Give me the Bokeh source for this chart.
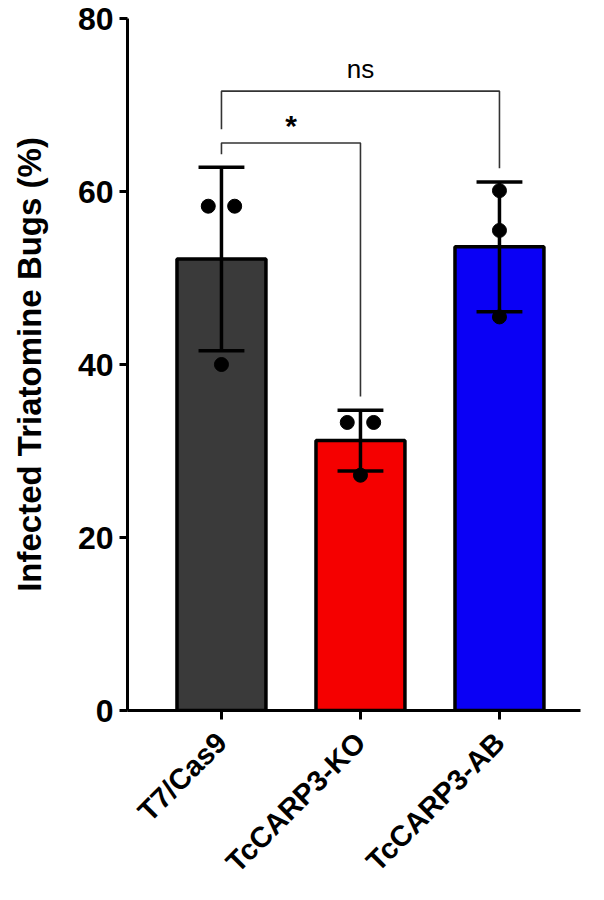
import math
from bokeh.plotting import figure
from bokeh.models import Range1d, FixedTicker, ColumnDataSource
from bokeh.core.properties import value
from bokeh.embed import file_html
from bokeh.resources import INLINE

# ---- data ----
categories = ["T7/Cas9", "TcCARP3-KO", "TcCARP3-AB"]
means = [52.2, 31.2, 53.6]
sds = [10.6, 3.5, 7.5]
pts_t7 = [58.3, 58.3, 40.0]
pts_ko = [33.3, 33.3, 27.2]
pts_ab = [60.1, 55.5, 45.5]
bar_colors = ["#3a3a3a", "#f50000", "#0a00f5"]
y_ticks = [0, 20, 40, 60, 80]
# significance comparisons: (group a, group b, label, bracket top, left leg end, right leg end)
sig_a = [0, 0]
sig_b = [1, 2]
sig_labels = ["*", "ns"]
sig_top = [65.6, 71.6]
sig_left_end = [64.3, 67.2]
sig_right_end = [36.3, 62.7]

# styling (jitter of replicate dots within a group)
jitter = [[-0.095, 0.095, 0.0], [-0.095, 0.095, 0.0], [0.0, 0.0, 0.0]]

xs = list(range(len(categories)))

p = figure(width=588, height=892, output_backend="svg", toolbar_location=None,
           x_range=Range1d(-0.676, 2.583), y_range=Range1d(0, 80),
           min_border_left=127, min_border_right=8, min_border_top=18, min_border_bottom=181)
p.outline_line_color = None
p.xgrid.visible = False
p.ygrid.visible = False
p.background_fill_color = "white"

# bars
p.vbar(x=xs, top=means, bottom=0, width=0.64, fill_color=bar_colors,
       line_color="black", line_width=3.5)

# error bars
lower = [m - s for m, s in zip(means, sds)]
upper = [m + s for m, s in zip(means, sds)]
cap = 0.165
p.segment(x0=xs, y0=lower, x1=xs, y1=upper, line_color="black", line_width=3.5)
p.segment(x0=[x - cap for x in xs], y0=upper, x1=[x + cap for x in xs], y1=upper,
          line_color="black", line_width=3.5)
p.segment(x0=[x - cap for x in xs], y0=lower, x1=[x + cap for x in xs], y1=lower,
          line_color="black", line_width=3.5)

# points
px, py = [], []
for i, pts in enumerate([pts_t7, pts_ko, pts_ab]):
    for j, v in enumerate(pts):
        px.append(xs[i] + jitter[i][j])
        py.append(v)
p.scatter(px, py, size=14, fill_color="black", line_color="black")

# significance brackets
for a, b, lab, top, le, re in zip(sig_a, sig_b, sig_labels, sig_top, sig_left_end, sig_right_end):
    p.line([xs[a], xs[a], xs[b], xs[b]], [le, top, top, re], line_color="#333333", line_width=1.6)
# labels
star_src = ColumnDataSource(dict(x=[(xs[sig_a[0]] + xs[sig_b[0]]) / 2], y=[sig_top[0] + 2.0], t=[sig_labels[0]]))
p.text(x="x", y="y", text="t", source=star_src, text_align="center", text_baseline="middle",
       text_font=value("Liberation Sans"), text_font_style="bold", text_font_size="30px", text_color="black")
ns_src = ColumnDataSource(dict(x=[(xs[sig_a[1]] + xs[sig_b[1]]) / 2], y=[sig_top[1] + 2.6], t=[sig_labels[1]]))
p.text(x="x", y="y", text="t", source=ns_src, text_align="center", text_baseline="middle",
       text_font=value("Liberation Sans"), text_font_size="26px", text_color="black")

# axes
p.yaxis.ticker = FixedTicker(ticks=y_ticks)
p.yaxis.minor_tick_line_color = None
p.yaxis.axis_line_width = 3
p.yaxis.major_tick_line_width = 3
p.yaxis.major_tick_out = 8
p.yaxis.major_tick_in = 0
p.yaxis.major_label_standoff = 6
p.yaxis.major_label_text_font = "Liberation Sans"
p.yaxis.major_label_text_font_style = "bold"
p.yaxis.major_label_text_font_size = "32px"
p.yaxis.major_label_text_color = "black"
p.yaxis.axis_label = "Infected Triatomine Bugs (%)"
p.yaxis.axis_label_text_font = "Liberation Sans"
p.yaxis.axis_label_text_font_style = "bold"
p.yaxis.axis_label_text_font_size = "33px"
p.yaxis.axis_label_text_color = "black"
p.yaxis.axis_label_standoff = 27

p.xaxis.ticker = FixedTicker(ticks=xs)
p.xaxis.major_label_overrides = {i: c for i, c in zip(xs, categories)}
p.xaxis.minor_tick_line_color = None
p.xaxis.axis_line_width = 3
p.xaxis.major_tick_line_width = 3
p.xaxis.major_tick_out = 9
p.xaxis.major_tick_in = 0
p.xaxis.major_label_orientation = math.pi / 4
p.xaxis.major_label_standoff = 18
p.xaxis.major_label_text_font = "Liberation Sans"
p.xaxis.major_label_text_font_style = "bold"
p.xaxis.major_label_text_font_size = "29px"
p.xaxis.major_label_text_line_height = 1.0
p.xaxis.major_label_text_color = "black"

open("out.html", "w").write(file_html(p, INLINE))
